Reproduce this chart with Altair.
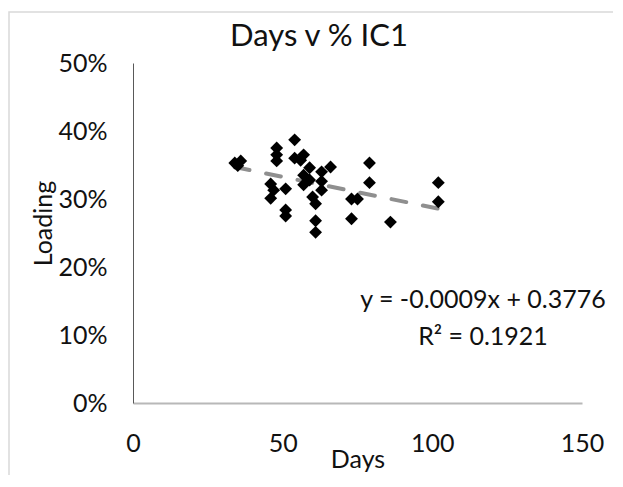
import altair as alt
import pandas as pd

# Data
days = [34, 36, 35, 54, 48, 48, 48, 54, 57, 56,
        59, 63, 66, 79, 57, 63, 57, 46, 47, 51,
        63, 79, 102, 46, 60, 61, 73, 75, 102, 51,
        51, 73, 61, 86, 61, 59]
loading = [0.353, 0.356, 0.349, 0.387, 0.375, 0.365, 0.356, 0.360, 0.365, 0.357,
           0.346, 0.340, 0.347, 0.353, 0.335, 0.326, 0.321, 0.322, 0.313, 0.315,
           0.313, 0.324, 0.324, 0.301, 0.303, 0.293, 0.300, 0.300, 0.296, 0.284,
           0.275, 0.271, 0.268, 0.266, 0.251, 0.328]

x_ticks = [0, 50, 100, 150]
y_ticks = [0, 0.1, 0.2, 0.3, 0.4, 0.5]

slope = -0.0009
intercept = 0.3776
eq_line1 = "y = -0.0009x + 0.3776"
eq_line2 = "R² = 0.1921"
title_text = "Days v % IC1"

FONT = "Lato"
TXT = "#111111"

df = pd.DataFrame({"days": days, "loading": loading})
trend_x = [min(days), max(days)]
trend = pd.DataFrame({"days": trend_x, "loading": [slope * v + intercept for v in trend_x]})

x_enc = alt.X("days:Q", scale=alt.Scale(domain=[0, 150], nice=False),
              axis=alt.Axis(values=x_ticks, title="Days", grid=False, ticks=False,
                            domainColor="#b8b8b8", domainWidth=2, labelFlush=False,
                            labelFont=FONT, labelFontSize=25, labelColor=TXT,
                            labelPadding=28, titleFont=FONT, titleFontSize=25,
                            titleFontWeight="normal", titleColor=TXT,
                            titleY=64, titleBaseline="alphabetic"))
y_enc = alt.Y("loading:Q", scale=alt.Scale(domain=[0, 0.5], nice=False),
              axis=alt.Axis(values=y_ticks, format=".0%", title="Loading", grid=False,
                            ticks=False, domainColor="#595959", domainWidth=1,
                            labelFlush=False,
                            labelFont=FONT, labelFontSize=25, labelColor=TXT,
                            labelPadding=26, titleFont=FONT, titleFontSize=25,
                            titleFontWeight="normal", titleColor=TXT,
                            titleAngle=270, titleX=-90, titleY=160,
                            titleBaseline="middle", titleAlign="center"))

points = alt.Chart(df).mark_point(shape="diamond", filled=True, color="black",
                                  size=165, opacity=1).encode(x=x_enc, y=y_enc)

line = alt.Chart(trend).mark_line(color="#8f8f8f", strokeWidth=4, strokeDash=[15, 17],
                                  strokeCap="round").encode(x="days:Q", y="loading:Q")

title = alt.Chart(pd.DataFrame({"t": [title_text]})).mark_text(
    font=FONT, fontSize=31, color=TXT, align="center", baseline="alphabetic"
).encode(text="t:N", x=alt.value(186), y=alt.value(-17))

eq1 = alt.Chart(pd.DataFrame({"t": [eq_line1]})).mark_text(
    font=FONT, fontSize=25, color=TXT, align="center", baseline="middle"
).encode(text="t:N", x=alt.value(350), y=alt.value(237))
eq2 = alt.Chart(pd.DataFrame({"t": [eq_line2]})).mark_text(
    font=FONT, fontSize=25, color=TXT, align="center", baseline="middle"
).encode(text="t:N", x=alt.value(350), y=alt.value(274))

border = alt.Chart(pd.DataFrame({"a": [0]})).mark_rect(
    fillOpacity=0, stroke="#d9d9d9", strokeWidth=1.5
).encode(x=alt.value(-124), x2=alt.value(520), y=alt.value(-51), y2=alt.value(450))

chart = alt.layer(border, line, points, title, eq1, eq2).properties(
    width=449, height=340,
    autosize=alt.AutoSizeParams(type="none"),
    padding={"left": 125, "top": 55, "right": 31, "bottom": 72},
).configure_view(stroke=None)

chart.save("out.html", embed_options={"renderer": "svg", "actions": False})
